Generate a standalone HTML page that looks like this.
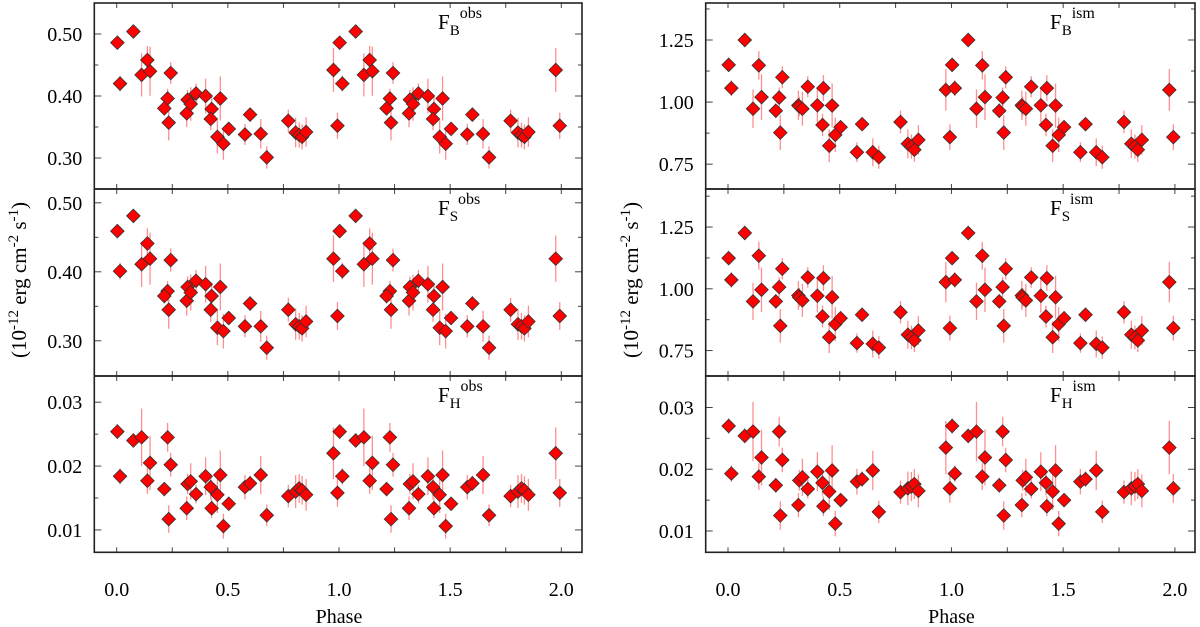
<!DOCTYPE html>
<html><head><meta charset="utf-8"><style>
body{margin:0;background:#fff;}
svg{display:block;font-family:"Liberation Serif",serif;}
</style></head><body>
<svg id="c" width="1200" height="627" viewBox="0 0 1200 627" xmlns="http://www.w3.org/2000/svg"></svg>
<script>
const phases=[0.003,0.015,0.075,0.112,0.138,0.15,0.243,0.229,0.214,0.234,0.315,0.319,0.333,0.357,0.400,0.427,0.423,0.466,0.453,0.480,0.504,0.577,0.600,0.648,0.675,0.772,0.805,0.821,0.834,0.852,0.975,0.993];
const fbObs=[0.486,0.420,0.504,0.434,0.458,0.440,0.437,0.396,0.380,0.357,0.372,0.394,0.387,0.404,0.400,0.379,0.363,0.396,0.334,0.323,0.347,0.338,0.370,0.339,0.301,0.360,0.341,0.337,0.334,0.342,0.442,0.352];
const fsObs=[0.459,0.401,0.481,0.411,0.441,0.419,0.417,0.372,0.365,0.345,0.358,0.378,0.370,0.387,0.382,0.365,0.345,0.378,0.319,0.314,0.333,0.321,0.354,0.321,0.290,0.345,0.324,0.321,0.318,0.328,0.419,0.336];
const fhObs=[0.0254,0.0184,0.0240,0.0245,0.0177,0.0205,0.0202,0.0245,0.0164,0.0117,0.0134,0.0172,0.0176,0.0156,0.0184,0.0134,0.0167,0.0186,0.0155,0.0106,0.0141,0.0167,0.0173,0.0186,0.0123,0.0153,0.0160,0.0165,0.0162,0.0155,0.0220,0.0158];
const fbIsm=[1.150,1.056,1.250,0.973,1.148,1.020,1.100,1.018,0.965,0.877,0.987,0.982,0.973,1.062,0.987,1.056,0.908,0.986,0.824,0.868,0.899,0.798,0.911,0.798,0.778,0.920,0.832,0.821,0.808,0.848,1.049,0.859];
const fsIsm=[1.124,1.036,1.226,0.949,1.134,0.996,1.081,1.007,0.949,0.850,0.973,0.965,0.953,1.046,0.972,1.043,0.888,0.966,0.804,0.857,0.881,0.780,0.895,0.777,0.762,0.905,0.814,0.803,0.791,0.831,1.027,0.841];
const fhIsm=[0.0270,0.0193,0.0254,0.0261,0.0188,0.0219,0.0215,0.0261,0.0174,0.0125,0.0142,0.0182,0.0187,0.0168,0.0196,0.0140,0.0178,0.0198,0.0164,0.0112,0.0150,0.0180,0.0184,0.0198,0.0131,0.0163,0.0169,0.0172,0.0176,0.0165,0.0235,0.0169];
const errFrac=[0.02,0.03,0.02,0.08,0.05,0.09,0.04,0.04,0.03,0.08,0.06,0.04,0.07,0.04,0.07,0.05,0.05,0.09,0.08,0.08,0.03,0.05,0.03,0.07,0.06,0.05,0.07,0.06,0.06,0.07,0.08,0.06];
const xTicks=[0.0,0.5,1.0,1.5,2.0];
const xTickLabels=["0.0","0.5","1.0","1.5","2.0"];

const NS="http://www.w3.org/2000/svg";
const svg=document.getElementById('c');
function el(t,a,p){const e=document.createElementNS(NS,t);for(const k in a)e.setAttribute(k,a[k]);(p||svg).appendChild(e);return e;}

const cols=[{x0:94.3,x1:582,p0:116.7,p2:561.3},{x0:705.7,x1:1195,p0:728,p2:1174.9}];
const rows=[{y0:3,y1:189},{y0:189,y1:376},{y0:376,y1:552.3}];
const panels=[
 {c:0,r:0,vals:fbObs,min:0.25,max:0.55,major:[0.30,0.40,0.50],minor:[0.35,0.45],dec:2,sub:"B",sup:"obs",es:1,name:"fb-obs"},
 {c:0,r:1,vals:fsObs,min:0.249,max:0.52,major:[0.30,0.40,0.50],minor:[0.35,0.45],dec:2,sub:"S",sup:"obs",es:1,name:"fs-obs"},
 {c:0,r:2,vals:fhObs,min:0.0065,max:0.0341,major:[0.01,0.02,0.03],minor:[0.015,0.025],dec:2,sub:"H",sup:"obs",es:2.3,name:"fh-obs"},
 {c:1,r:0,vals:fbIsm,min:0.65,max:1.399,major:[0.75,1.00,1.25],minor:[0.875,1.125,1.375],dec:2,sub:"B",sup:"ism",es:1,name:"fb-ism"},
 {c:1,r:1,vals:fsIsm,min:0.647,max:1.404,major:[0.75,1.00,1.25],minor:[0.875,1.125,1.375],dec:2,sub:"S",sup:"ism",es:1,name:"fs-ism"},
 {c:1,r:2,vals:fhIsm,min:0.00655,max:0.0351,major:[0.01,0.02,0.03],minor:[0.015,0.025],dec:2,sub:"H",sup:"ism",es:2.3,name:"fh-ism"}
];

panels.forEach(P=>{
 const C=cols[P.c],R=rows[P.r];
 const g=el('g',{});
 
 
 const X=v=>C.p0+(C.p2-C.p0)*v/2;
 const Y=v=>R.y1-(v-P.min)/(P.max-P.min)*(R.y1-R.y0);
 // ticks
 for(let t=0;t<=2.0001;t+=0.25){
  const x=X(t);
  el('line',{x1:x,x2:x,y1:R.y0,y2:R.y0+5,stroke:'#444','stroke-width':1},g);
  el('line',{x1:x,x2:x,y1:R.y1,y2:R.y1-5,stroke:'#444','stroke-width':1},g);
 }
 P.major.forEach(v=>{const y=Y(v);
  el('line',{x1:C.x0,x2:C.x0+7,y1:y,y2:y,stroke:'#444'},g);
  el('line',{x1:C.x1,x2:C.x1-7,y1:y,y2:y,stroke:'#444'},g);
  const t=el('text',{x:C.x0-12,y:y+7,'text-anchor':'end','font-size':20,fill:'#000'},g);
  t.textContent=v.toFixed(P.dec);
  
  
 });
 P.minor.forEach(v=>{const y=Y(v);if(y<R.y0+2)return;
  el('line',{x1:C.x0,x2:C.x0+4,y1:y,y2:y,stroke:'#444'},g);
  el('line',{x1:C.x1,x2:C.x1-4,y1:y,y2:y,stroke:'#444'},g);
 });
 // points (two cycles)
 const dg=el('g',{},g);
 
 
 [0,1].forEach(cyc=>{
  phases.forEach((ph,i)=>{
   const v=P.vals[i],e=v*errFrac[i]*P.es;
   const x=X(ph+cyc),y=Y(v);
   el('line',{x1:x,x2:x,y1:Y(v+e),y2:Y(v-e),stroke:'#ff8f8f','stroke-width':1.3},dg);
  });
 });
 [0,1].forEach(cyc=>{
  phases.forEach((ph,i)=>{
   const x=X(ph+cyc),y=Y(P.vals[i]),s=6.8;
   const d=el('polygon',{points:`${x},${y-s} ${x+s},${y} ${x},${y+s} ${x-s},${y}`,fill:'#ff0000',stroke:'#333','stroke-width':0.8},dg);
   
   
  });
 });
 // frame
 el('rect',{x:C.x0,y:R.y0,width:C.x1-C.x0,height:R.y1-R.y0,fill:'none',stroke:'#222','stroke-width':1.6},g);
 // label
 const lx=P.c===0?438:1050;
 const lt=el('text',{x:lx,y:R.y0+26,'font-size':21,fill:'#000'},g);
 
 
 lt.innerHTML=`F<tspan font-size="15" dy="6">${P.sub}</tspan><tspan font-size="16" dy="-17">${P.sup}</tspan>`;
});

// x tick labels and titles
cols.forEach((C,ci)=>{
 xTicks.forEach((t,i)=>{
  const x=C.p0+(C.p2-C.p0)*t/2;
  const tx=el('text',{x:x,y:596,'text-anchor':'middle','font-size':20,fill:'#000'});
  tx.textContent=xTickLabels[i];
  
  
 });
 const xt=el('text',{x:(C.p0+C.p2)/2,y:623,'text-anchor':'middle','font-size':20,fill:'#000'});
 xt.textContent='Phase';
 
 
 const yx=ci===0?26:638;
 const yt=el('text',{x:0,y:0,'text-anchor':'middle','font-size':21,fill:'#000',transform:`translate(${yx},280) rotate(-90)`});
 yt.innerHTML='(10<tspan font-size="15" dy="-8">-12</tspan><tspan dy="8"> erg cm</tspan><tspan font-size="15" dy="-8">-2</tspan><tspan dy="8"> s</tspan><tspan font-size="15" dy="-8">-1</tspan><tspan dy="8">)</tspan>';
 
 
});
</script>
</body></html>
